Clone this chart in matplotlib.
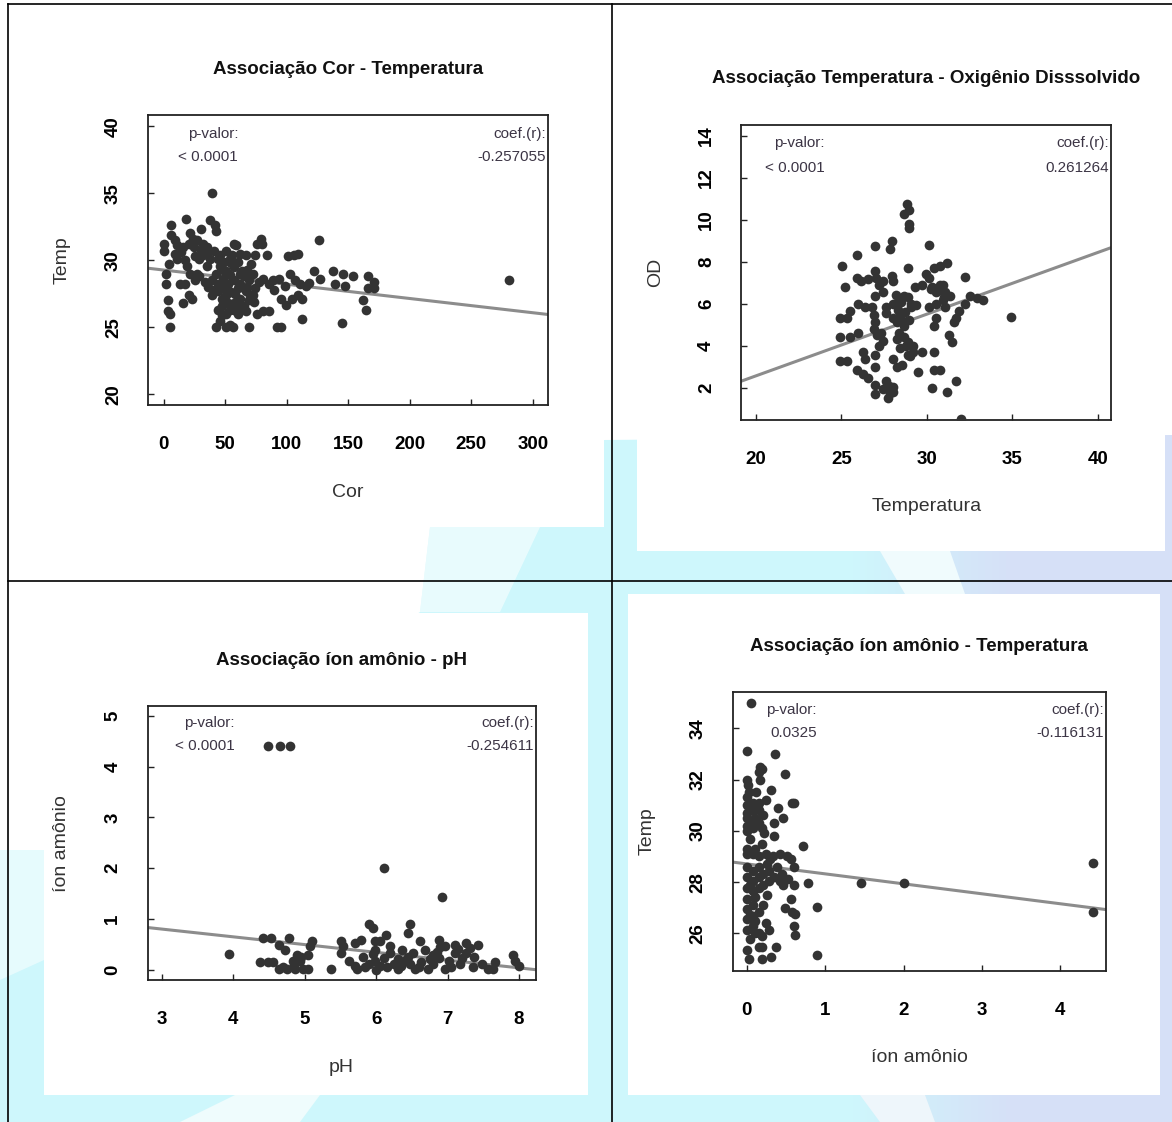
import matplotlib
matplotlib.use("Agg")
import matplotlib.pyplot as plt
import numpy as np
from matplotlib.patches import Polygon, Rectangle

plt.rcParams['font.family'] = ['Liberation Sans', 'DejaVu Sans']

W, H = 1172, 1122   # output size in pixels

# ---------------- data ----------------
# Associação Cor - Temperatura
cor = [39.6, 18.4, 6.3, 6.3, 38, 41.8, 42.8, 30, 21.5, 23.8, 0.6, 0, 11.1, 15.8, 20.6,
       26.9, 31.7, 34.9, 41.2, 46, 50.7, 55.5, 58.6, 11.1, 17.4, 25.4, 31.7, 38, 44.4,
       49.1, 53.9, 60.2, 66.6, 74.5, 71.3, 76.1, 79.9, 79.2, 84, 57, 101.4, 106.2, 109.4,
       126, 1.6, 1.6, 13.3, 17.4, 21.5, 25.4, 28.5, 33.3, 39.6, 44.4, 48.2, 53.9, 57,
       61.8, 65, 69.7, 72.9, 77.6, 80.8, 85.6, 88.7, 93.5, 98.3, 103, 107.1, 110.9, 115.7,
       122, 126.8, 137.9, 145.8, 153.7, 139.5, 147.4, 166.4, 171.2, 166.4, 171.2, 280.5,
       3.8, 3.8, 5.4, 20.6, 22.8, 15.8, 39.6, 44.4, 47.5, 50.7, 57, 61.8, 65, 69.7, 72.9,
       44.4, 47.5, 50.7, 57, 63.4, 76.1, 80.8, 85.6, 95.1, 99.8, 104.6, 109.4, 112.5,
       112.5, 161.6, 164.8, 5.4, 42.8, 50.7, 56.4, 69.7, 91.9, 95.1, 46, 53.9, 145.2,
       46.0, 50.7, 57.1, 63.4, 60.2, 66.6, 49.1, 42.8, 74.5, 52.3, 34.9, 28.5, 19.0,
       4.0, 9, 27, 36, 62, 68, 55, 60, 90, 118,
       45, 52, 58, 64, 70, 48, 55, 62, 68, 40, 35, 25, 14, 9, 30, 47, 54, 61, 67, 73]
cor_temp = [35.0, 33.1, 32.6, 31.9, 33.0, 32.6, 32.2, 32.3, 32.0, 31.6, 31.2, 30.7, 31.1,
            31.0, 31.2, 31.5, 31.2, 31.0, 30.7, 30.4, 30.7, 30.4, 31.1, 30.1, 30.0, 30.3,
            30.4, 30.1, 30.1, 29.9, 30.1, 29.9, 30.4, 30.4, 29.7, 31.2, 31.2, 31.6, 30.4,
            31.2, 30.3, 30.4, 30.5, 31.5, 29.0, 28.2, 28.2, 28.2, 29.0, 28.5, 28.8, 28.4,
            28.5, 28.2, 28.6, 28.9, 28.5, 28.2, 28.8, 28.5, 29.0, 28.4, 28.6, 28.2, 28.5,
            28.6, 28.1, 29.0, 28.5, 28.2, 28.1, 29.2, 28.6, 29.2, 29.0, 28.8, 28.2, 28.1,
            28.8, 28.4, 27.9, 27.9, 28.5, 27.0, 26.2, 26.0, 27.4, 27.1, 26.8, 27.4, 27.7,
            27.1, 27.4, 26.8, 27.1, 26.6, 27.0, 27.4, 26.3, 25.9, 26.0, 26.3, 26.4, 26.0,
            26.2, 26.2, 27.1, 26.7, 27.1, 27.4, 27.1, 25.6, 27.0, 26.3, 25.0, 25.0, 25.0,
            25.0, 25.0, 25.0, 25.0, 25.5, 25.2, 25.3, 29.6, 29.2, 29.5, 29.2, 27.9, 27.7,
            27.9, 29.0, 27.9, 26.8, 29.6, 30.1, 29.6, 29.7, 30.5, 29.0, 28.0, 30.5, 29.3,
            27.6, 26.0, 27.8, 28.3,
            28.0, 28.2, 27.5, 28.0, 27.4, 29.3, 29.8, 29.0, 28.0, 27.8, 30.6, 31.0, 30.6,
            31.5, 30.8, 26.6, 26.3, 26.8, 26.2, 26.9]

# Associação Temperatura - Oxigênio Dissolvido
temp_od = [28.84, 28.99, 28.67, 28.99, 28.99, 30.13, 26.96, 27.94, 27.84, 25.91, 25.02,
           28.88, 26.96, 27.04, 27.94, 28.05, 29.93, 30.13, 30.45, 30.76, 31.18, 32.23,
           25.91, 26.16, 26.58, 27.42, 25.19, 29.30, 29.72, 30.24, 30.56, 30.97, 31.08,
           27.0, 27.42, 25.95, 26.37, 26.79, 27.63, 28.05, 28.36, 28.67, 29.09, 29.40,
           30.13, 30.55, 30.97, 31.39, 31.08, 31.91, 32.23, 32.54, 32.96, 33.27, 27.63,
           28.05, 28.46, 28.25, 28.67, 28.99, 25.5, 25.33, 24.91, 26.90, 27.0, 30.55,
           30.45, 31.70, 31.60, 34.94, 24.91, 25.5, 25.96, 27.10, 27.42, 27.21, 28.25,
           28.67, 28.88, 29.19, 28.46, 31.28, 31.49, 24.91, 25.33, 26.27, 26.37, 27.0,
           26.96, 28.05, 28.25, 28.57, 28.88, 29.19, 29.72, 30.45, 25.91, 26.27, 26.58,
           29.51, 30.45, 30.76, 27.0, 27.42, 27.63, 27.84, 28.05, 27.74, 27.0, 30.30,
           31.18, 31.70, 32.02,
           28.3, 28.5, 28.7, 28.9, 28.2, 28.6, 29.1, 30.6, 30.8, 31.0, 30.3, 28.4, 28.8,
           29.0, 27.8, 28.0, 27.3, 26.9, 27.2]
od = [10.77, 10.45, 10.27, 9.81, 9.63, 8.80, 8.75, 9.01, 8.63, 8.34, 7.78, 7.71, 7.57,
      7.25, 7.34, 7.07, 7.42, 7.25, 7.69, 7.78, 7.92, 7.28, 7.25, 7.07, 7.16, 7.07, 6.80,
      6.80, 6.89, 6.72, 6.54, 6.89, 6.54, 6.36, 6.54, 6.01, 5.83, 5.83, 5.83, 6.01, 6.19,
      6.36, 5.83, 5.92, 5.83, 6.01, 6.19, 6.36, 5.83, 5.66, 6.01, 6.36, 6.28, 6.19, 5.57,
      5.30, 5.48, 5.12, 4.95, 5.21, 5.66, 5.30, 5.34, 5.48, 5.12, 5.30, 4.95, 5.30, 5.12,
      5.39, 4.42, 4.42, 4.63, 4.51, 4.24, 3.98, 4.33, 4.42, 4.16, 3.98, 3.89, 4.51, 4.16,
      3.27, 3.27, 3.71, 3.36, 3.54, 3.01, 3.36, 3.01, 3.10, 3.54, 3.71, 3.71, 3.71, 2.83,
      2.65, 2.48, 2.74, 2.83, 2.83, 2.12, 1.95, 2.30, 1.77, 2.03, 1.51, 1.68, 1.98, 1.81,
      2.30, 0.50,
      5.7, 6.1, 5.6, 6.3, 6.4, 5.2, 6.0, 6.6, 6.9, 6.3, 6.8, 4.6, 4.0, 3.5, 2.1, 1.8,
      4.6, 4.8, 6.9]

# Associação íon amônio - pH
ph = [4.49, 4.66, 4.79, 6.11, 6.92, 3.94, 4.37, 4.48, 4.56, 4.42, 4.53, 4.64, 4.72, 4.78,
      4.64, 4.75, 4.86, 4.97, 5.05, 4.83, 4.94, 5.05, 5.08, 5.10, 4.89, 5.37, 5.51, 5.51,
      5.54, 5.62, 5.70, 5.73, 5.70, 5.79, 5.90, 5.95, 5.99, 6.06, 6.14, 5.81, 5.90, 5.98,
      6.06, 6.11, 6.20, 6.25, 6.31, 6.39, 6.47, 6.55, 6.63, 6.47, 6.44, 6.61, 6.72, 6.80,
      6.88, 6.96, 7.02, 7.10, 7.18, 6.88, 6.96, 7.10, 7.26, 7.32, 7.43, 7.26, 7.37, 7.48,
      7.56, 7.64, 7.67, 7.92, 7.95, 8.0, 5.98, 6.20, 6.36, 6.52, 6.69, 6.80,
      5.85, 6.0, 6.15, 6.3, 6.45, 6.6, 6.75, 6.85, 7.05, 7.2, 7.35, 6.35, 5.95, 6.9, 7.15,
      4.7, 4.85, 4.95]
amonio_ph = [4.41, 4.41, 4.41, 2.01, 1.44, 0.31, 0.15, 0.15, 0.15, 0.63, 0.63, 0.49, 0.39,
             0.63, 0.01, 0.01, 0.01, 0.01, 0.01, 0.18, 0.18, 0.29, 0.46, 0.56, 0.29, 0.01,
             0.56, 0.32, 0.46, 0.18, 0.08, 0.01, 0.52, 0.59, 0.90, 0.83, 0.56, 0.56, 0.69,
             0.25, 0.12, 0.18, 0.08, 0.22, 0.32, 0.12, 0.01, 0.18, 0.12, 0.01, 0.15, 0.90,
             0.73, 0.56, 0.01, 0.12, 0.22, 0.01, 0.18, 0.32, 0.12, 0.59, 0.46, 0.49, 0.52,
             0.42, 0.49, 0.32, 0.25, 0.12, 0.01, 0.01, 0.15, 0.29, 0.18, 0.08, 0.39, 0.46,
             0.39, 0.32, 0.39, 0.29,
             0.05, 0.0, 0.05, 0.2, 0.25, 0.05, 0.2, 0.35, 0.05, 0.22, 0.05, 0.08, 0.3, 0.45,
             0.4, 0.05, 0.1, 0.25]

# Associação íon amônio - Temperatura
amonio = [0.05, 0.0, 0.36, 0.17, 0.15, 0.19, 0.49, 0.0, 0.01, 0.03, 0.17, 0, 0, 0, 0, 0,
          0, 0.08, 0.08, 0.08, 0.08, 0.15, 0.15, 0.15, 0.21, 0.19, 0.31, 0.40, 0.46, 0.60,
          0.58, 0.35, 0.19, 0.35, 0, 0, 0.08, 0.15, 0.24, 0.33, 0.42, 0.51, 0.56, 0.72, 0,
          0, 0, 0, 0.08, 0.08, 0.08, 0.15, 0.15, 0.15, 0.21, 0.21, 0.28, 0.28, 0.35, 0.42,
          0.46, 0.53, 0.60, 0.60, 0.78, 1.46, 2.0, 4.41, 4.41, 0, 0, 0, 0.08, 0.08, 0.08,
          0.15, 0.15, 0.21, 0.24, 0.28, 0.19, 0.49, 0.58, 0.62, 0.56, 0.89, 0.60, 0.62, 0,
          0.03, 0.15, 0.19, 0.19, 0.31, 0.37, 0.89,
          0.04, 0.11, 0.04, 0.11, 0.26, 0.04, 0.11, 0.26, 0.04, 0.11, 0.04, 0.11, 0.3, 0.38,
          0.45, 0.25, 0.12, 0.22]
amonio_temp = [35.0, 33.1, 33.0, 32.5, 32.3, 32.4, 32.2, 32.0, 31.8, 31.5, 32.0, 31.3,
               31.0, 30.7, 30.5, 30.2, 30.0, 31.1, 30.8, 30.4, 30.1, 31.1, 30.8, 30.3,
               30.6, 30.1, 31.6, 30.9, 30.5, 31.1, 31.1, 30.3, 29.5, 29.8, 29.3, 29.1,
               29.1, 29.0, 29.1, 29.0, 29.1, 29.0, 28.9, 29.4, 28.58, 28.18, 27.77, 27.36,
               28.45, 28.04, 27.64, 28.58, 28.18, 27.77, 28.31, 27.9, 28.45, 28.04, 28.18,
               28.04, 27.9, 28.11, 27.9, 28.58, 27.97, 27.97, 27.97, 28.74, 26.82, 26.96,
               26.55, 26.15, 27.1, 26.69, 26.28, 26.82, 26.01, 27.1, 26.42, 26.15, 25.88,
               26.99, 26.85, 26.76, 27.36, 27.03, 26.28, 25.95, 25.34, 25.0, 25.47, 25.47,
               25.0, 25.07, 25.47, 25.16,
               30.9, 30.5, 29.7, 29.3, 28.7, 27.9, 27.4, 27.5, 26.7, 26.5, 25.8, 26.0, 28.9,
               28.6, 28.3, 31.2, 31.5, 29.9]

# fitted lines (intercept, slope) and the printed statistics
fit_cor = (29.27, -0.01061)
fit_od = (-3.31, 0.2938)
fit_ph = (1.258, -0.1529)
fit_amonio = (28.71, -0.3887)

pval_cor, coef_cor = "< 0.0001", "-0.257055"
pval_od, coef_od = "< 0.0001", "0.261264"
pval_ph, coef_ph = "< 0.0001", "-0.254611"
pval_amonio, coef_amonio = "0.0325", "-0.116131"

POINT = '#333333'
LINE = '#8c8c8c'
TXT = '#3c3545'


def add_px_axes(fig, left, top, right, bottom):
    return fig.add_axes([left / W, 1 - bottom / H, (right - left) / W, (bottom - top) / H])


def draw_panel(fig, box, x, y, fit, xlim, ylim, xticks, yticks,
               title, xlabel, ylabel, pval, coef):
    left, top, right, bottom = box
    bw, bh = right - left, bottom - top
    ax = add_px_axes(fig, *box)
    ax.set_facecolor('white')

    ax.plot(x, y, 'o', ms=7.0, color=POINT, mec='none', zorder=3)
    ax.axline((0, fit[0]), slope=fit[1], color=LINE, lw=2.2, zorder=2)

    ax.set_xlim(*xlim)
    ax.set_ylim(*ylim)
    ax.set_xticks(xticks)
    ax.set_yticks(yticks)
    ax.tick_params(direction='in', length=4.3, width=1, color='#222222',
                   labelsize=13.5, labelcolor='black')
    ax.tick_params(axis='x', pad=28.5)
    ax.tick_params(axis='y', pad=25)
    for lab in ax.get_xticklabels():
        lab.set_fontweight('bold')
        lab.set_va('center')
    for lab in ax.get_yticklabels():
        lab.set_fontweight('bold')
        lab.set_rotation(90)
        lab.set_ha('center')
        lab.set_va('center')
    for sp in ax.spines.values():
        sp.set_linewidth(1.3)
        sp.set_color('#222222')

    # titles and labels, positioned in pixels from the box
    ax.text(0.5, 1 + 46 / bh, title, transform=ax.transAxes, ha='center', va='center',
            fontsize=13.5, fontweight='bold', color='#111111')
    ax.text(0.5, -87 / bh, xlabel, transform=ax.transAxes, ha='center', va='center',
            fontsize=14, color='#333333')
    ax.text(-86 / bw, 0.5, ylabel, transform=ax.transAxes, ha='center', va='center',
            rotation=90, fontsize=14, color='#333333')

    ax.text(0.225, 0.937, "p-valor:", transform=ax.transAxes, ha='right', va='center',
            fontsize=11, color=TXT)
    ax.text(0.225, 0.855, pval, transform=ax.transAxes, ha='right', va='center',
            fontsize=11, color=TXT)
    ax.text(0.995, 0.937, "coef.(r):", transform=ax.transAxes, ha='right', va='center',
            fontsize=11, color=TXT)
    ax.text(0.995, 0.855, coef, transform=ax.transAxes, ha='right', va='center',
            fontsize=11, color=TXT)
    return ax


fig = plt.figure(figsize=(W / 100, H / 100), dpi=100)

# ---- background watermark + white plot pages + frame lines ----
bg = fig.add_axes([0, 0, 1, 1], zorder=-5)
bg.set_xlim(0, W)
bg.set_ylim(H, 0)
bg.axis('off')
t = np.clip((np.arange(W) - 850) / 160, 0, 1)
c1 = np.array([0.81, 0.97, 0.99])
c2 = np.array([0.84, 0.88, 0.97])
row = c1 + (c2 - c1) * t[:, None]
bg.imshow(np.repeat(row[None, :, :], 2, axis=0), extent=[0, W, H, 0], aspect='auto')
bg.add_patch(Polygon([(0, 0), (W, 0), (W, 435), (604, 440), (430, 527), (420, 612),
                      (44, 850), (0, 850)], closed=True, fc='white', ec='none'))
# soft edges of the watermark
bg.add_patch(Polygon([(430, 527), (540, 527), (500, 612), (420, 612)], closed=True,
                     fc='white', ec='none', alpha=0.55))
bg.add_patch(Polygon([(0, 850), (44, 850), (44, 960), (0, 980)], closed=True,
                     fc='white', ec='none', alpha=0.5))
bg.add_patch(Polygon([(880, 551), (950, 551), (965, 594), (905, 594)], closed=True,
                     fc='#f0fbfd', ec='none'))
bg.add_patch(Polygon([(180, H), (235, 1095), (320, 1095), (300, H)], closed=True,
                     fc='#effcfd', ec='none'))
bg.add_patch(Polygon([(860, 1095), (925, 1095), (935, H), (880, H)], closed=True,
                     fc='#eef6fb', ec='none'))
for (l, tp, r, b) in [(8, 4, 604, 527), (637, 4, 1165, 551),
                      (44, 613, 588, 1095), (628, 594, 1160, 1095)]:
    bg.add_patch(Rectangle((l, tp), r - l, b - tp, fc='white', ec='none'))
bg.plot([8, W], [4, 4], color='black', lw=1.2)
bg.plot([8, 8], [4, H], color='black', lw=1.2)
bg.plot([612, 612], [4, H], color='black', lw=1.2)
bg.plot([8, W], [581, 581], color='black', lw=1.2)

draw_panel(fig, (148.3, 115.4, 547.6, 405.1), cor, cor_temp, fit_cor,
           (-12.5, 312), (19.2, 40.8), range(0, 301, 50), range(20, 41, 5),
           "Associação Cor - Temperatura", "Cor", "Temp", pval_cor, coef_cor)
draw_panel(fig, (741.3, 124.7, 1111.3, 419.9), temp_od, od, fit_od,
           (19.15, 40.8), (0.47, 14.53), range(20, 41, 5), range(2, 15, 2),
           "Associação Temperatura - Oxigênio Disssolvido", "Temperatura", "OD",
           pval_od, coef_od)
draw_panel(fig, (147.5, 706.2, 535.5, 980.3), ph, amonio_ph, fit_ph,
           (2.8, 8.23), (-0.21, 5.19), range(3, 9), range(0, 6),
           "Associação íon amônio - pH", "pH", "íon amônio", pval_ph, coef_ph)
draw_panel(fig, (732.7, 692.3, 1105.9, 970.6), amonio, amonio_temp, fit_amonio,
           (-0.18, 4.58), (24.55, 35.4), range(0, 5), range(26, 35, 2),
           "Associação íon amônio - Temperatura", "íon amônio", "Temp",
           pval_amonio, coef_amonio)

fig.savefig("out.png", dpi=100)
